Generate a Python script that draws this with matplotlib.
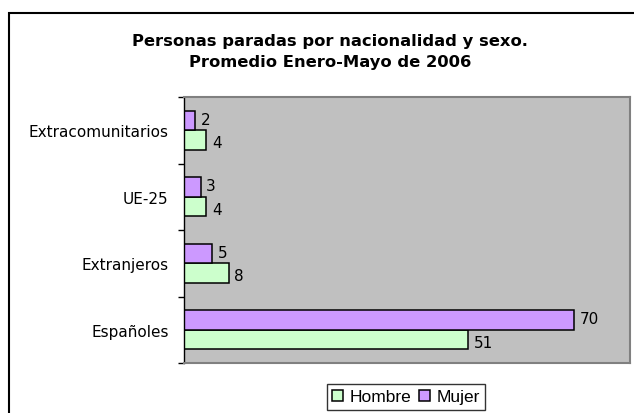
import matplotlib
matplotlib.use("Agg")
import matplotlib.pyplot as plt
from matplotlib.patches import Rectangle, Patch
import numpy as np

categories = ["Españoles", "Extranjeros", "UE-25", "Extracomunitarios"]
hombre = [51, 8, 4, 4]
mujer = [70, 5, 3, 2]
title = "Personas paradas por nacionalidad y sexo.\nPromedio Enero-Mayo de 2006"

W, H = 634, 414
fig = plt.figure(figsize=(W / 100, H / 100), dpi=100)
plt.rcParams['font.family'] = ['DejaVu Sans']

# outer chart frame
fig.patches.append(Rectangle((8.5 / W, -0.1), 2, 1 - 13.5 / H + 0.1,
                             transform=fig.transFigure, fill=False,
                             edgecolor="#000000", linewidth=1.5))

left, right, top, bottom = 184, 630, 98, 364
ax = fig.add_axes([left / W, 1 - bottom / H, (right - left) / W, (bottom - top) / H])
ax.set_facecolor("#C0C0C0")

y = np.arange(len(categories)) + 0.5
h = 0.29
ax.barh(y - h / 2, hombre, height=h, color="#CCFFCC", edgecolor="black", linewidth=1.1, label="Hombre")
ax.barh(y + h / 2, mujer, height=h, color="#CC99FF", edgecolor="black", linewidth=1.1, label="Mujer")

for yi, v in zip(y - h / 2, hombre):
    ax.annotate(str(v), (v, yi), xytext=(4, -2), textcoords="offset points",
                va="center", ha="left", fontsize=11)
for yi, v in zip(y + h / 2, mujer):
    ax.annotate(str(v), (v, yi), xytext=(4, 1), textcoords="offset points",
                va="center", ha="left", fontsize=11)

ax.set_xlim(0, 80)
ax.set_ylim(0, 4)
ax.set_xticks([])
ax.set_yticks(np.arange(5))
ax.set_yticklabels([])
ax.set_yticks(y, minor=True)
ax.set_yticklabels(categories, minor=True, fontsize=11)
ax.tick_params(axis="y", which="major", direction="out", length=4, width=1, color="black")
ax.tick_params(axis="y", which="minor", length=0, pad=11)

for s in ["top", "right", "bottom"]:
    ax.spines[s].set_color("#808080")
    ax.spines[s].set_linewidth(1.5)
ax.spines["left"].set_color("black")
ax.spines["left"].set_linewidth(1)

fig.text(330 / W, 1 - 52 / H, title, ha="center", va="center",
         fontsize=11.8, fontweight="bold", linespacing=1.5)

handles = [Patch(facecolor="#CCFFCC", edgecolor="black", linewidth=1.1),
           Patch(facecolor="#CC99FF", edgecolor="black", linewidth=1.1)]
leg = fig.legend(handles, ["Hombre", "Mujer"], loc="center",
                 bbox_to_anchor=(406 / W, 1 - 398 / H), ncol=2, frameon=True,
                 fancybox=False, edgecolor="black",
                 prop={"family": "Liberation Sans", "size": 12.5},
                 handlelength=0.65, handleheight=0.65, handletextpad=0.35,
                 columnspacing=0.45, borderpad=0.3)
leg.get_frame().set_linewidth(1)

fig.savefig("out.png", dpi=100)
